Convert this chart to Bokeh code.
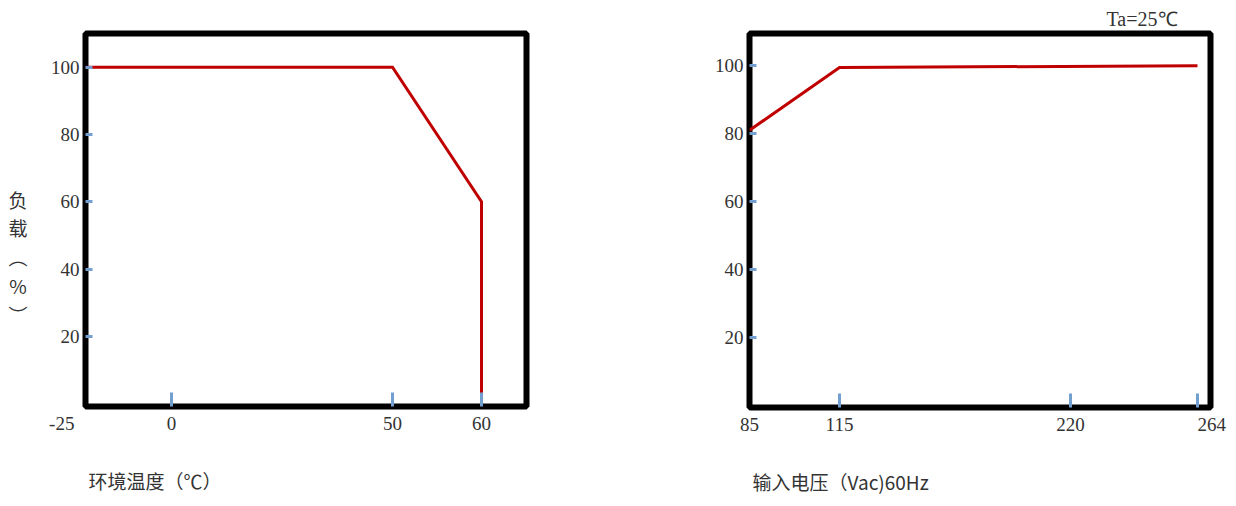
import numpy as np
from bokeh.plotting import figure
from bokeh.models import (Range1d, FixedTicker, Label, LinearAxis, Title,
                          CustomLabelingPolicy)
from bokeh.layouts import row
from bokeh.embed import file_html
from bokeh.resources import INLINE

# ---------------- data ----------------
temperature = [-25, 50, 60, 60]          # ambient temperature (°C)
load_by_temp = [100, 100, 60, 0]         # load (%)
voltage = [85, 115, 264]                 # input voltage (Vac)
load_by_volt = [81, 99.5, 100]           # load (%)

temp_tick_values = [-25, 0, 50, 60]
temp_tick_labels = ["-25", "0", "50", "60"]
volt_tick_values = [85, 115, 220, 264]
volt_tick_labels = ["85", "115", "220", "264"]
load_tick_values = [20, 40, 60, 80, 100]

x_title_temp = "环境温度（℃）"
x_title_volt = "输入电压（Vac)60Hz"
y_title = "负\n载\n︵\n%\n︶"
note_text = "Ta=25℃"

# ---------------- layout / style ----------------
# the original axes are not uniformly spaced: tick slots (px from frame left)
temp_tick_slots = [0, 86, 307, 396]
volt_tick_slots = [0, 90, 321, 448]
# the first / last labels of the original sit beside their tick; padding moves them
label_pad = {"-25": "\u2003\u2003\u2002", "264": "\u2003\u2002"}

RED = "#c00000"
TICK = "#729fcf"
TXT = "#333333"
NUM_FONT = "Liberation Serif"
CJK_FONT = "Noto Sans CJK SC"
H = 498


def slot(v, ticks, slots):
    return [float(s) for s in np.interp(v, ticks, slots)]


def make_fig(frame_w, frame_h, bl, br, bt, y0, y1):
    p = figure(frame_width=frame_w, frame_height=frame_h,
               min_border_left=bl, min_border_right=br,
               min_border_top=bt, min_border_bottom=H - bt - frame_h,
               x_range=Range1d(0, frame_w), y_range=Range1d(y0, y1),
               output_backend="svg", toolbar_location=None, tools="")
    p.background_fill_color = "white"
    p.border_fill_color = "white"
    p.outline_line_color = "black"
    p.outline_line_width = 6
    p.outline_line_alpha = 1
    p.xgrid.visible = False
    p.ygrid.visible = False
    for ax in (p.xaxis[0], p.yaxis[0]):
        ax.axis_line_color = None
        ax.minor_tick_line_color = None
        ax.major_tick_out = 0
        ax.major_tick_line_color = TICK
        ax.major_tick_line_width = 3
        ax.major_label_text_font = NUM_FONT
        ax.major_label_text_font_size = "19px"
        ax.major_label_text_color = TXT
    p.yaxis[0].major_tick_in = 7
    p.yaxis[0].major_label_standoff = 6
    p.yaxis[0].ticker = FixedTicker(ticks=load_tick_values)
    return p


def set_x_axis(p, values, slots, labels, marked, title):
    pos = slot(values, values, slots)
    marked_pos = slot(marked, values, slots)
    # axis 1: tick marks only (the outermost ticks of the original are hidden by the frame)
    tick_ax = p.xaxis[0]
    tick_ax.ticker = FixedTicker(ticks=marked_pos)
    tick_ax.major_tick_in = 14
    tick_ax.major_label_overrides = {s: "" for s in marked_pos}
    tick_ax.major_label_policy = CustomLabelingPolicy(
        code="for (const i of indices) { indices.unset(i) }\nreturn indices")
    tick_ax.major_label_text_font_size = "1px"
    tick_ax.major_label_standoff = 0
    # axis 2: tick labels
    over = {}
    for s, l in zip(pos, labels):
        pad = label_pad.get(l, "")
        over[s] = (l + pad) if l == labels[0] else (pad + l)
    lab_ax = LinearAxis(ticker=FixedTicker(ticks=pos), major_label_overrides=over,
                        axis_line_color=None, major_tick_line_color=None,
                        minor_tick_line_color=None, major_tick_in=0, major_tick_out=0,
                        major_label_standoff=6,
                        major_label_text_font=NUM_FONT, major_label_text_font_size="19px",
                        major_label_text_color=TXT)
    p.add_layout(lab_ax, "below")
    # axis title, left-aligned under the frame
    p.add_layout(Title(text=title, align="left", offset=3, standoff=56,
                       text_font=CJK_FONT, text_font_size="19px",
                       text_font_style="normal", text_color=TXT), "below")


# ---------------- y title strip ----------------
p0 = figure(frame_width=40, frame_height=H, min_border=0,
            x_range=Range1d(0, 40), y_range=Range1d(0, H),
            x_axis_location=None, y_axis_location=None,
            output_backend="svg", toolbar_location=None, tools="")
p0.outline_line_color = None
p0.xgrid.visible = False
p0.ygrid.visible = False
p0.add_layout(Label(x=17.5, y=H - 152, text=y_title, text_align="center",
                    text_baseline="top", text_line_height=1.07,
                    text_font=CJK_FONT, text_font_size="19px", text_color=TXT))

# ---------------- left: load vs temperature ----------------
p1 = make_fig(441, 373, 45, 90, 33, -0.89, 110.04)
set_x_axis(p1, temp_tick_values, temp_tick_slots, temp_tick_labels,
           temp_tick_values[1:], x_title_temp)
p1.line(slot(temperature, temp_tick_values, temp_tick_slots), load_by_temp,
        line_color=RED, line_width=3, line_join="miter")

# ---------------- right: load vs input voltage ----------------
p2 = make_fig(461, 374, 133, 18, 32, -0.62, 109.5)
set_x_axis(p2, volt_tick_values, volt_tick_slots, volt_tick_labels,
           volt_tick_values[1:], x_title_volt)
p2.line(slot(voltage, volt_tick_values, volt_tick_slots), load_by_volt,
        line_color=RED, line_width=3, line_join="miter")
p2.title.text = note_text
p2.title.align = "right"
p2.title.offset = 33
p2.title.standoff = 7
p2.title.text_font = NUM_FONT
p2.title.text_font_size = "20px"
p2.title.text_font_style = "normal"
p2.title.text_color = TXT

layout = row(p0, p1, p2)
open("out.html", "w").write(file_html(layout, INLINE))
